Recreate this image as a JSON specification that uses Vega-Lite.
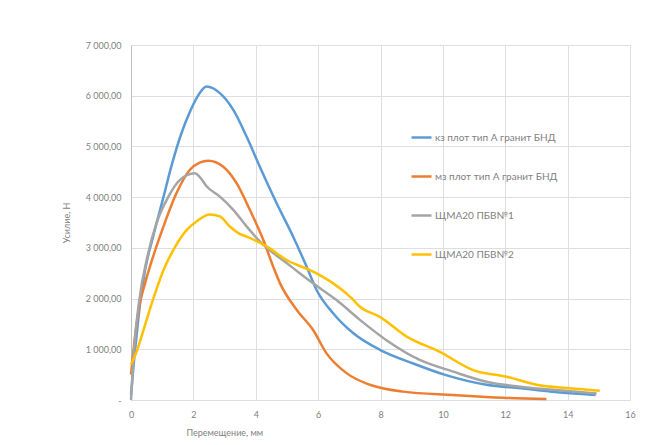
{
  "$schema": "https://vega.github.io/schema/vega-lite/v6.json",
  "width": 499,
  "height": 355,
  "autosize": {"type": "none"},
  "padding": {"left": 131, "top": 45, "right": 32, "bottom": 45},
  "background": "white",
  "config": {
    "font": "Lato",
    "view": {"stroke": null},
    "axis": {"labelFont": "Lato", "titleFont": "Lato", "labelColor": "#7f7f7f", "titleColor": "#7f7f7f", "labelFontSize": 9, "titleFontSize": 9, "titleFontWeight": "normal", "grid": true, "gridColor": "#dedede", "gridWidth": 1, "gridOpacity": 1, "ticks": false}
  },
  "data": {
    "values": [
      {"s": "кз плот тип А гранит БНД", "x": 0, "y": 100},
      {"s": "кз плот тип А гранит БНД", "x": 0.1, "y": 800},
      {"s": "кз плот тип А гранит БНД", "x": 0.2, "y": 1400},
      {"s": "кз плот тип А гранит БНД", "x": 0.3, "y": 1950},
      {"s": "кз плот тип А гранит БНД", "x": 0.45, "y": 2560},
      {"s": "кз плот тип А гранит БНД", "x": 0.7, "y": 3200},
      {"s": "кз плот тип А гранит БНД", "x": 1.04, "y": 4000},
      {"s": "кз плот тип А гранит БНД", "x": 1.3, "y": 4620},
      {"s": "кз плот тип А гранит БНД", "x": 1.6, "y": 5230},
      {"s": "кз плот тип А гранит БНД", "x": 1.9, "y": 5700},
      {"s": "кз плот тип А гранит БНД", "x": 2.2, "y": 6050},
      {"s": "кз плот тип А гранит БНД", "x": 2.42, "y": 6180},
      {"s": "кз плот тип А гранит БНД", "x": 2.85, "y": 6050},
      {"s": "кз плот тип А гранит БНД", "x": 3.28, "y": 5720},
      {"s": "кз плот тип А гранит БНД", "x": 3.71, "y": 5190},
      {"s": "кз плот тип А гранит БНД", "x": 4.13, "y": 4600},
      {"s": "кз плот тип А гранит БНД", "x": 4.67, "y": 3880},
      {"s": "кз плот тип А гранит БНД", "x": 5.2, "y": 3220},
      {"s": "кз плот тип А гранит БНД", "x": 5.63, "y": 2630},
      {"s": "кз плот тип А гранит БНД", "x": 5.95, "y": 2170},
      {"s": "кз плот тип А гранит БНД", "x": 6.48, "y": 1710},
      {"s": "кз плот тип А гранит БНД", "x": 7.13, "y": 1315},
      {"s": "кз плот тип А гранит БНД", "x": 7.98, "y": 990},
      {"s": "кз плот тип А гранит БНД", "x": 9.05, "y": 720},
      {"s": "кз плот тип А гранит БНД", "x": 10.1, "y": 490},
      {"s": "кз плот тип А гранит БНД", "x": 11.4, "y": 300},
      {"s": "кз плот тип А гранит БНД", "x": 12.5, "y": 230},
      {"s": "кз плот тип А гранит БНД", "x": 13.5, "y": 165},
      {"s": "кз плот тип А гранит БНД", "x": 14.9, "y": 100},

      {"s": "мз плот тип А гранит БНД", "x": 0, "y": 500},
      {"s": "мз плот тип А гранит БНД", "x": 0.1, "y": 1100},
      {"s": "мз плот тип А гранит БНД", "x": 0.25, "y": 1800},
      {"s": "мз плот тип А гранит БНД", "x": 0.45, "y": 2300},
      {"s": "мз плот тип А гранит БНД", "x": 0.71, "y": 2830},
      {"s": "мз плот тип А гранит БНД", "x": 1.04, "y": 3420},
      {"s": "мз плот тип А гранит БНД", "x": 1.46, "y": 4080},
      {"s": "мз плот тип А гранит БНД", "x": 1.89, "y": 4540},
      {"s": "мз плот тип А гранит БНД", "x": 2.2, "y": 4680},
      {"s": "мз плот тип А гранит БНД", "x": 2.48, "y": 4720},
      {"s": "мз плот тип А гранит БНД", "x": 2.96, "y": 4600},
      {"s": "мз плот тип А гранит БНД", "x": 3.39, "y": 4270},
      {"s": "мз плот тип А гранит БНД", "x": 3.81, "y": 3750},
      {"s": "мз плот тип А гранит БНД", "x": 4.24, "y": 3160},
      {"s": "мз плот тип А гранит БНД", "x": 4.56, "y": 2630},
      {"s": "мз плот тип А гранит БНД", "x": 4.78, "y": 2300},
      {"s": "мз плот тип А гранит БНД", "x": 5.31, "y": 1780},
      {"s": "мз плот тип А гранит БНД", "x": 5.84, "y": 1380},
      {"s": "мз плот тип А гранит БНД", "x": 6.27, "y": 920},
      {"s": "мз плот тип А гранит БНД", "x": 6.91, "y": 530},
      {"s": "мз плот тип А гранит БНД", "x": 7.66, "y": 300},
      {"s": "мз плот тип А гранит БНД", "x": 8.73, "y": 165},
      {"s": "мз плот тип А гранит БНД", "x": 10.33, "y": 100},
      {"s": "мз плот тип А гранит БНД", "x": 11.93, "y": 45},
      {"s": "мз плот тип А гранит БНД", "x": 13.32, "y": 20},

      {"s": "ЩМА20 ПБВ№1", "x": 0, "y": 0},
      {"s": "ЩМА20 ПБВ№1", "x": 0.1, "y": 1000},
      {"s": "ЩМА20 ПБВ№1", "x": 0.25, "y": 1900},
      {"s": "ЩМА20 ПБВ№1", "x": 0.55, "y": 2890},
      {"s": "ЩМА20 ПБВ№1", "x": 0.82, "y": 3490},
      {"s": "ЩМА20 ПБВ№1", "x": 1.2, "y": 4010},
      {"s": "ЩМА20 ПБВ№1", "x": 1.57, "y": 4340},
      {"s": "ЩМА20 ПБВ№1", "x": 2.05, "y": 4470},
      {"s": "ЩМА20 ПБВ№1", "x": 2.2, "y": 4400},
      {"s": "ЩМА20 ПБВ№1", "x": 2.43, "y": 4210},
      {"s": "ЩМА20 ПБВ№1", "x": 2.85, "y": 4010},
      {"s": "ЩМА20 ПБВ№1", "x": 3.28, "y": 3750},
      {"s": "ЩМА20 ПБВ№1", "x": 3.71, "y": 3420},
      {"s": "ЩМА20 ПБВ№1", "x": 4.13, "y": 3130},
      {"s": "ЩМА20 ПБВ№1", "x": 4.56, "y": 2900},
      {"s": "ЩМА20 ПБВ№1", "x": 4.99, "y": 2700},
      {"s": "ЩМА20 ПБВ№1", "x": 5.41, "y": 2500},
      {"s": "ЩМА20 ПБВ№1", "x": 5.84, "y": 2300},
      {"s": "ЩМА20 ПБВ№1", "x": 6.59, "y": 1970},
      {"s": "ЩМА20 ПБВ№1", "x": 7.34, "y": 1580},
      {"s": "ЩМА20 ПБВ№1", "x": 8.19, "y": 1180},
      {"s": "ЩМА20 ПБВ№1", "x": 9.26, "y": 790},
      {"s": "ЩМА20 ПБВ№1", "x": 10.33, "y": 560},
      {"s": "ЩМА20 ПБВ№1", "x": 11.4, "y": 360},
      {"s": "ЩМА20 ПБВ№1", "x": 12.47, "y": 260},
      {"s": "ЩМА20 ПБВ№1", "x": 13.53, "y": 200},
      {"s": "ЩМА20 ПБВ№1", "x": 14.93, "y": 130},

      {"s": "ЩМА20 ПБВ№2", "x": 0, "y": 700},
      {"s": "ЩМА20 ПБВ№2", "x": 0.18, "y": 950},
      {"s": "ЩМА20 ПБВ№2", "x": 0.4, "y": 1380},
      {"s": "ЩМА20 ПБВ№2", "x": 0.71, "y": 1990},
      {"s": "ЩМА20 ПБВ№2", "x": 1.04, "y": 2560},
      {"s": "ЩМА20 ПБВ№2", "x": 1.36, "y": 2960},
      {"s": "ЩМА20 ПБВ№2", "x": 1.78, "y": 3350},
      {"s": "ЩМА20 ПБВ№2", "x": 2.1, "y": 3520},
      {"s": "ЩМА20 ПБВ№2", "x": 2.53, "y": 3660},
      {"s": "ЩМА20 ПБВ№2", "x": 2.85, "y": 3620},
      {"s": "ЩМА20 ПБВ№2", "x": 3.17, "y": 3420},
      {"s": "ЩМА20 ПБВ№2", "x": 3.5, "y": 3270},
      {"s": "ЩМА20 ПБВ№2", "x": 3.71, "y": 3220},
      {"s": "ЩМА20 ПБВ№2", "x": 4.35, "y": 3030},
      {"s": "ЩМА20 ПБВ№2", "x": 4.99, "y": 2760},
      {"s": "ЩМА20 ПБВ№2", "x": 5.84, "y": 2530},
      {"s": "ЩМА20 ПБВ№2", "x": 6.48, "y": 2300},
      {"s": "ЩМА20 ПБВ№2", "x": 7.02, "y": 2040},
      {"s": "ЩМА20 ПБВ№2", "x": 7.34, "y": 1840},
      {"s": "ЩМА20 ПБВ№2", "x": 7.98, "y": 1640},
      {"s": "ЩМА20 ПБВ№2", "x": 8.84, "y": 1250},
      {"s": "ЩМА20 ПБВ№2", "x": 9.9, "y": 950},
      {"s": "ЩМА20 ПБВ№2", "x": 10.97, "y": 590},
      {"s": "ЩМА20 ПБВ№2", "x": 12.04, "y": 460},
      {"s": "ЩМА20 ПБВ№2", "x": 13.0, "y": 300},
      {"s": "ЩМА20 ПБВ№2", "x": 14.07, "y": 230},
      {"s": "ЩМА20 ПБВ№2", "x": 15.03, "y": 180}
    ]
  },
  "mark": {"type": "line", "strokeWidth": 2.5, "interpolate": "monotone"},
  "encoding": {
    "x": {
      "field": "x", "type": "quantitative",
      "scale": {"domain": [0, 16], "nice": false},
      "axis": {"values": [0, 2, 4, 6, 8, 10, 12, 14, 16], "title": "Перемещение, мм", "titleAnchor": "start", "titleX": 55, "titleY": 28, "labelPadding": 10, "domain": false, "labelFlush": false, "grid": true}
    },
    "y": {
      "field": "y", "type": "quantitative",
      "scale": {"domain": [0, 7000], "nice": false},
      "axis": {"values": [0, 1000, 2000, 3000, 4000, 5000, 6000, 7000], "title": "Усилие, Н", "titlePadding": 14, "labelPadding": 10, "domain": true, "domainColor": "#bfbfbf", "grid": true,
        "labelExpr": "datum.value == 0 ? '-' : replace(replace(format(datum.value, ',.2f'), ',', ' '), '.', ',')"}
    },
    "color": {
      "field": "s", "type": "nominal",
      "scale": {"domain": ["кз плот тип А гранит БНД", "мз плот тип А гранит БНД", "ЩМА20 ПБВ№1", "ЩМА20 ПБВ№2"], "range": ["#5B9BD5", "#ED7D31", "#A5A5A5", "#FFC000"]},
      "legend": {"title": null, "orient": "none", "legendX": 279, "legendY": 81, "symbolType": "stroke", "symbolSize": 400, "symbolStrokeWidth": 2.5, "rowPadding": 22, "labelFontSize": 10, "labelColor": "#7f7f7f", "labelFont": "Lato", "labelOffset": 2}
    }
  }
}
